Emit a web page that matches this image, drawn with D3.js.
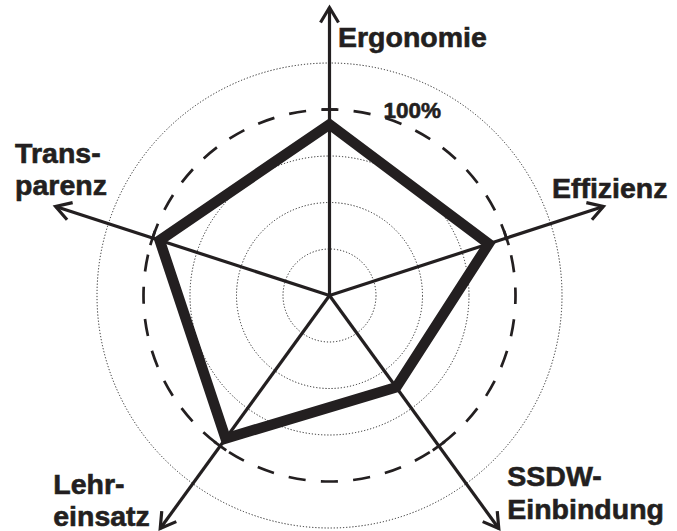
<!DOCTYPE html>
<html>
<head>
<meta charset="utf-8">
<script src="https://cdn.jsdelivr.net/npm/d3@7"></script>
<style>
  html, body { margin: 0; padding: 0; background: #fff; }
  svg { display: block; }
  text { font-family: "Liberation Sans", Arial, Helvetica, sans-serif; font-weight: bold; fill: #231f20; stroke: #231f20; stroke-width: 0.6px; }
</style>
</head>
<body>
<svg id="chart" width="677" height="531"></svg>
<script>
// Criteria (clockwise from the top) and their two-line captions
const criteria = ["Ergonomie", "Effizienz", "SSDW-Einbindung", "Lehreinsatz", "Transparenz"];
const captions = [["Ergonomie"], ["Effizienz"], ["SSDW-", "Einbindung"], ["Lehr-", "einsatz"], ["Trans-", "parenz"]];
// Degree of fulfilment per criterion, in percent
const scores = [92, 90, 61, 95, 96];
// Reference rings, in percent
const rings = [25, 50, 75, 100, 125];
const refRing = 100;
const refLabel = "100%";

const cx = 329.5, cy = 295.5;
const ink = "#231f20";

const svg = d3.select("#chart");
const g = svg.append("g").attr("transform", `translate(${cx},${cy})`);

const r = d3.scaleLinear().domain([0, 125]).range([0, 232.5]);
const angle = d3.scalePoint().domain(criteria).range([0, 2 * Math.PI * (criteria.length - 1) / criteria.length]);
const axisLen = 288;

// polar -> cartesian, angle clockwise from 12 o'clock
const pt = (a, rad) => [Math.sin(a) * rad, -Math.cos(a) * rad];

// dotted rings
g.selectAll("circle.ring")
  .data(rings.filter(d => d !== refRing))
  .join("circle")
  .attr("class", "ring")
  .attr("r", d => r(d))
  .attr("fill", "none")
  .attr("stroke", "#222")
  .attr("stroke-width", 1)
  .attr("stroke-dasharray", "1.2,1.9");

// dashed reference ring
const refR = r(refRing);
const circ = 2 * Math.PI * refR;
const period = circ / 36;
g.append("circle")
  .attr("r", refR)
  .attr("fill", "none")
  .attr("stroke", ink)
  .attr("stroke-width", 2.7)
  .attr("stroke-dasharray", `${period * 0.53},${period * 0.47}`)
  .attr("stroke-dashoffset", period * 0.53 / 2 + circ / 4);

// axes with open arrowheads
criteria.forEach(c => {
  const a = angle(c);
  const [x2, y2] = pt(a, axisLen);
  g.append("line")
    .attr("x1", 0).attr("y1", 0).attr("x2", x2).attr("y2", y2)
    .attr("stroke", ink).attr("stroke-width", 3.2);
  const back = 15, spread = 9;
  const [bx, by] = pt(a, axisLen - back);
  const nx = Math.cos(a), ny = Math.sin(a);
  g.append("path")
    .attr("d", `M${bx + nx * spread},${by + ny * spread}L${x2},${y2}L${bx - nx * spread},${by - ny * spread}`)
    .attr("fill", "none").attr("stroke", ink).attr("stroke-width", 3.2)
    .attr("stroke-linejoin", "miter");
  // tick across the axis at the reference ring
  const [tx, ty] = pt(a, refR);
  const tl = 7.5;
  g.append("line")
    .attr("x1", tx + nx * tl).attr("y1", ty + ny * tl)
    .attr("x2", tx - nx * tl).attr("y2", ty - ny * tl)
    .attr("stroke", ink).attr("stroke-width", 2.7);
});

// score polygon
const radial = d3.lineRadial()
  .angle((d, i) => angle(criteria[i]))
  .radius(d => r(d))
  .curve(d3.curveLinearClosed);
g.append("path")
  .attr("d", radial(scores))
  .attr("fill", "none")
  .attr("stroke", ink)
  .attr("stroke-width", 10.5)
  .attr("stroke-linejoin", "miter")
  .attr("stroke-miterlimit", 10);

// captions placed next to each arrow tip
const capOffset = [[8.5, 39], [-51.5, -8.5], [8.5, -42], [-107, -34.5], [-40.5, -43.5]];
const lineGap = 32.3;
criteria.forEach((c, i) => {
  const [x2, y2] = pt(angle(c), axisLen);
  const t = g.append("text")
    .attr("x", x2 + capOffset[i][0])
    .attr("y", y2 + capOffset[i][1])
    .attr("font-size", 28.5);
  captions[i].forEach((line, k) => {
    t.append("tspan")
      .attr("x", x2 + capOffset[i][0])
      .attr("dy", k === 0 ? 0 : lineGap)
      .text(line);
  });
});

// reference ring label
g.append("text")
  .attr("x", 54)
  .attr("y", -refR + 8.5)
  .attr("font-size", 22.5)
  .text(refLabel);
</script>
</body>
</html>
